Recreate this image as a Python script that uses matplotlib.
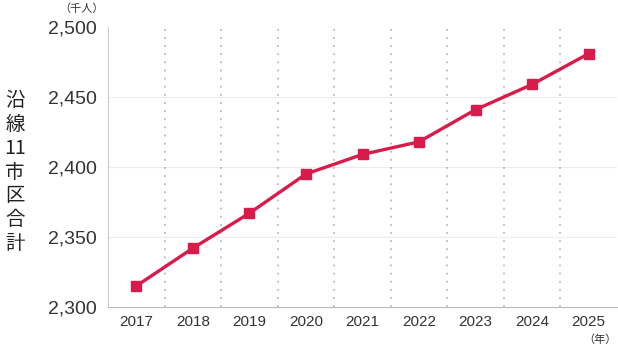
import matplotlib.pyplot as plt

plt.rcParams['font.family'] = ['Noto Sans CJK JP', 'DejaVu Sans']

years = [2017, 2018, 2019, 2020, 2021, 2022, 2023, 2024, 2025]
population = [2315, 2342, 2367, 2395, 2409, 2418, 2441, 2459, 2481]
yticks = [2300, 2350, 2400, 2450, 2500]

num_font = ['Liberation Sans', 'DejaVu Sans']

fig = plt.figure(figsize=(6.18, 3.49), dpi=100)
ax = fig.add_axes([108/618, 42/349, 509/618, 280/349])

ax.set_xlim(2016.5, 2025.5)
ax.set_ylim(2300, 2500)

# horizontal grid
for v in yticks[1:-1]:
    ax.axhline(v, color='#ececec', lw=0.8, zorder=0)
# dotted separators between years
for y in years[:-1]:
    ax.axvline(y + 0.5, color='#bbbbbb', lw=1.3, ls=(0, (1, 3.5)), zorder=0)

ax.plot(years, population, color='#d81b4b', lw=2.4, marker='s',
        markersize=7.5, zorder=3)

ax.set_xticks(years)
ax.set_xticklabels([str(y) for y in years], fontsize=11, color='#333333',
                   family=num_font)
ax.set_yticks(yticks)
ax.set_yticklabels([f'{v:,}' for v in yticks], fontsize=14, color='#333333',
                   family=num_font)
ax.tick_params(length=0, pad=6)
ax.tick_params(axis='y', pad=8)

for s in ['top', 'right']:
    ax.spines[s].set_visible(False)
ax.spines['left'].set_color('#cccccc')
ax.spines['bottom'].set_color('#bbbbbb')

fig.text(15/618, 1 - 172/349, '沿\n線\n11\n市\n区\n合\n計', fontsize=14,
         color='#222222', ha='center', va='center', linespacing=1.18)
fig.text(82/618, 1 - 9/349, '（千人）', fontsize=8, color='#333333',
         ha='center', va='center')
fig.text(600/618, 1 - 340/349, '（年）', fontsize=8, color='#333333',
         ha='center', va='center')

fig.savefig('out.png', dpi=100)
